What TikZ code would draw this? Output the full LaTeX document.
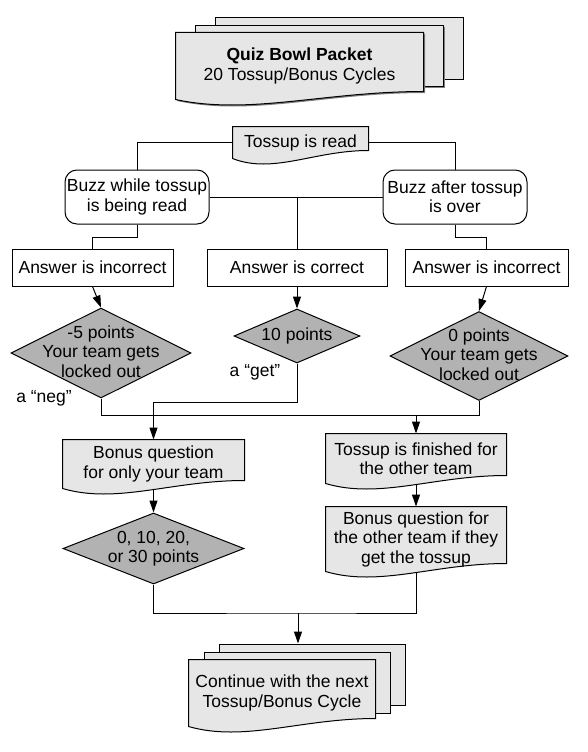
\documentclass[tikz,border=0pt]{standalone}
\usepackage{fontspec}
\setmainfont{Liberation Sans}
\usetikzlibrary{arrows.meta,calc,shapes.geometric,backgrounds,shadows}
\definecolor{docgray}{RGB}{230,230,230}
\definecolor{ptsgray}{RGB}{178,178,178}
\newcommand\qbfont{\fontsize{17.5}{19.5}\selectfont}
\newcommand\ptxt[1]{\raisebox{-5pt}[0pt][0pt]{\makebox[0pt]{\begin{tabular}{@{}c@{}}#1\end{tabular}}}}
\newcommand\docoutline[2][]{%
  \path[docline,#1] (#2.south west) -- (#2.north west) -- (#2.north east) -- ($(#2.south east)+(0,-8)$)
    .. controls ($(#2.south west)!0.6!(#2.south east)+(0,-8)$) and ($(#2.south west)!0.3!(#2.south east)+(0,16)$) .. (#2.south west) -- cycle;}
\tikzset{
  every node/.style={font=\qbfont},
  docline/.style={draw=black, fill=docgray, line width=1pt},
  doctext/.style={align=center, inner sep=0pt},
  sheet/.style={draw, fill=docgray, inner sep=0pt, anchor=north west},
  sheetshadow/.style={drop shadow={shadow xshift=1.5pt, shadow yshift=-1.5pt, fill=gray, opacity=1}},
  answerbox/.style={draw, fill=white, inner sep=0pt, minimum height=37pt},
  buzzbox/.style={draw, fill=white, rounded corners=12pt, align=center, inner sep=0pt, minimum width=144pt, minimum height=54pt},
  pointsbox/.style={diamond, draw, fill=ptsgray, inner sep=0pt},
  arr/.style={-{Triangle[length=12pt,width=8pt]}}
}
\begin{document}
\begin{tikzpicture}[x=1pt, y=-1pt, line width=1pt]
\useasboundingbox (0,0) rectangle (588,752);
\node[doctext, minimum width=247pt, minimum height=66pt] (pkt) at (299.5,66) {\textbf{Quiz Bowl Packet}\\20 Tossup/Bonus Cycles};
\node[doctext, minimum width=135pt, minimum height=31pt] (toss) at (300.5,142.5) {Tossup is read};
\node[buzzbox] (buzzL) at (137,197) {Buzz while tossup\\is being read};
\node[buzzbox] (buzzR) at (455,197) {Buzz after tossup\\is over};
\node[answerbox, minimum width=161pt] (ansL) at (92.5,267.5) {Answer is incorrect};
\node[answerbox, minimum width=180pt] (ansM) at (297,267.5) {Answer is correct};
\node[answerbox, minimum width=163pt] (ansR) at (486.5,267.5) {Answer is incorrect};
\node[pointsbox, minimum width=180pt, minimum height=90pt] (negpts) at (101,353) {\ptxt{-5 points\\Your team gets\\locked out}};
\node[pointsbox, minimum width=126pt, minimum height=54pt] (tenpts) at (297,336) {\ptxt{10 points}};
\node[pointsbox, minimum width=178pt, minimum height=89pt] (zeropts) at (479,356) {\ptxt{0 points\\Your team gets\\locked out}};
\node (neglabel) at (44,398) {a “neg”};
\node (getlabel) at (255,372) {a “get”};
\node[doctext, minimum width=181pt, minimum height=48pt] (bonusL) at (153.5,464) {Bonus question\\for only your team};
\node[doctext, minimum width=180pt, minimum height=49pt] (finished) at (416,458.5) {Tossup is finished for\\the other team};
\node[doctext, minimum width=180pt, minimum height=64pt] (bonusR) at (416,539) {Bonus question for\\the other team if they\\get the tossup};
\node[pointsbox, minimum width=181pt, minimum height=71pt] (bonuspts) at (153.5,548.5) {\ptxt{0, 10, 20,\\or 30 points}};
\node[doctext, minimum width=186pt, minimum height=66pt] (nxt) at (282,693) {Continue with the next\\Tossup/Bonus Cycle};
\begin{scope}[on background layer]
  \foreach \k in {2,1}
    \node[sheet, sheetshadow, minimum width=248pt, minimum height=61pt] (pkt\k) at ($(pkt.north west)+(19.5*\k,-7.5*\k)$) {};
  \docoutline[sheetshadow]{pkt}
  \foreach \k in {2,1}
    \node[sheet, minimum width=186pt, minimum height=61pt] (nxt\k) at ($(nxt.north west)+(15*\k,-8*\k)$) {};
  \docoutline{nxt}
  \docoutline{toss}
  \docoutline{bonusL}
  \docoutline{finished}
  \docoutline{bonusR}
\end{scope}
\draw (toss.west) -| (buzzL.north);
\draw (toss.east) -| (buzzR.north);
\draw (buzzL.east) -- (buzzR.west);
\draw (ansM.north |- buzzL.east) -- (ansM.north);
\draw (buzzL.south) -- ++(0,13) -| (ansL.north);
\draw (buzzR.south) -- ++(0,13) -| (ansR.north);
\draw[arr] (ansL.south) -- (negpts.north);
\draw[arr] (ansM.south) -- (tenpts.north);
\draw[arr] (ansR.south) -- (zeropts.north);
\coordinate (lock) at (101,415);
\coordinate (got) at (297,402);
\draw (negpts.south) -- (lock) -| (zeropts.south);
\draw[arr] (tenpts.south) -- (got) -| (bonusL.north);
\draw[arr] (lock -| finished.north) -- (finished.north);
\draw[arr] (bonusL.south) -- (bonuspts.north);
\draw[arr] (finished.south) -- (bonusR.north);
\coordinate (merge) at (298,613);
\draw (bonuspts.south) |- (merge) -| (bonusR.south);
\draw[arr] (merge) -- (merge |- nxt2.north);
\end{tikzpicture}
\end{document}
